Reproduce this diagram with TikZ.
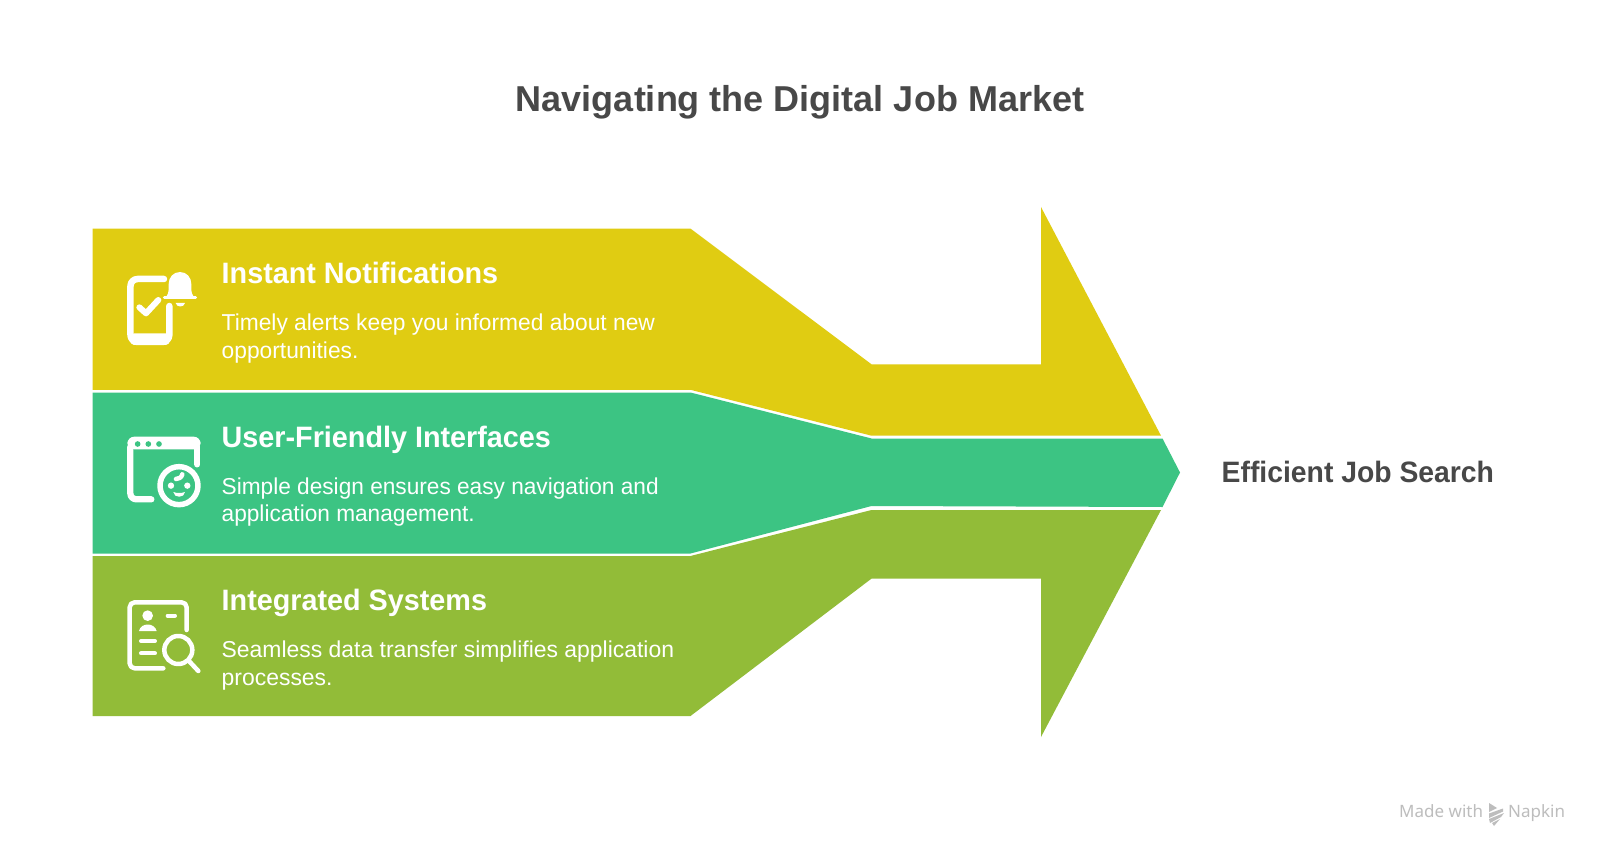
\documentclass[tikz,border=0pt]{standalone}
\usepackage{fontspec}
\setmainfont{Liberation Sans}
\newfontfamily\foot{Noto Sans}
\newfontfamily\headf[FakeStretch=0.975]{Liberation Sans}
\newfontfamily\endf[FakeStretch=0.96]{Liberation Sans}
\newfontfamily\bodyf[FakeStretch=0.99]{Liberation Sans}
\newfontfamily\bodyg[FakeStretch=0.985]{Liberation Sans}
\newfontfamily\bodyh[FakeStretch=0.997]{Liberation Sans}
\definecolor{cy}{HTML}{E0CC12}
\definecolor{cg}{HTML}{3CC483}
\definecolor{co}{HTML}{92BC38}
\definecolor{ct}{HTML}{484848}
\definecolor{cf}{HTML}{BDBDBD}
\tikzset{
  titletext/.style={font=\fontsize{36}{42}\selectfont\bfseries,text=ct,inner sep=0pt,anchor=base},
  endtext/.style={font=\endf\fontsize{29.5}{34}\selectfont\bfseries,text=ct,inner sep=0pt,anchor=base west},
  headtext/.style={font=\headf\fontsize{29.5}{34}\selectfont\bfseries,text=white,inner sep=0pt,anchor=base west},
  bodytext/.style={font=#1\fontsize{23}{27.5}\selectfont,text=white,inner sep=0pt,anchor=north west,align=left},
  footertext/.style={font=\foot\fontsize{17}{20}\selectfont,text=cf,inner sep=0pt,anchor=base west},
  ic/.style={draw=white,line cap=round,line join=round,line width=#1},
}
\begin{document}
\begin{tikzpicture}[x=1pt,y=-1pt]
\useasboundingbox (0,0) rectangle (1600,853);
\fill[white] (0,0) rectangle (1600,853);
% arrow bands
\fill[cy] (92.5,228.6)--(690.5,228.6)--(871.5,364.3)--(1041,364.3)--(1041,207)--(1161,435.7)--(871.5,435.7)--(690.5,389.8)--(92.5,389.8)--cycle;
\fill[cg] (92.5,392.5)--(690.5,392.5)--(871.5,438.5)--(1162.5,438.5)--(1180,472.5)--(1162.5,507)--(871.5,506)--(690.5,553.5)--(92.5,553.5)--cycle;
\fill[co] (92.5,556)--(690.5,556)--(871.5,510)--(1161,510)--(1041,737)--(1041,578.6)--(871.5,578.6)--(690.5,716)--(92.5,716)--cycle;
% texts
\node[titletext] (title) at (800,112) {Navigating the Digital Job Market};
\node[endtext] (end) at (1221.5,482) {Efficient Job Search};
\node[headtext] (h1) at (221.5,283.5) {Instant Notifications};
\node[bodytext=\bodyf] (b1) at (221.5,313.8) {Timely alerts keep you informed about new\\opportunities.};
\node[headtext] (h2) at (221.5,447) {User-Friendly Interfaces};
\node[bodytext=\bodyg] (b2) at (221.5,477.3) {Simple design ensures easy navigation and\\application management.};
\node[headtext] (h3) at (221.5,610.5) {Integrated Systems};
\node[bodytext=\bodyh] (b3) at (221.5,640.8) {Seamless data transfer simplifies application\\processes.};
\node[footertext] (ft1) at (1399,817) {Made with};
\node[footertext] (ft2) at (1508,817) {Napkin};
% footer logo
\fill[cf] (1489,803)--(1497,808)--(1489,812)--cycle;
\fill[cf] (1489,813.5)--(1503,808.5)--(1503,811.5)--(1489,818)--cycle;
\fill[cf] (1489,819)--(1504,813)--(1501,817)--(1490,823)--cycle;
\fill[cf] (1492,823)--(1500,819)--(1494,826)--cycle;
% icon 1: phone and bell
\begin{scope}[shift={(110,250)},x=0.3333pt,y=-0.3333pt]
\fill[white,rounded corners=4pt] (61,250) rectangle (179,285);
\draw[ic=6.5pt,rounded corners=7pt] (162,87)--(61.5,87)--(61.5,276)--(178,276)--(178,168);
\draw[ic=6pt] (88,172)--(108,190)--(145,150);
\fill[white] (170,138) .. controls (178,128) and (176,110) .. (176,102) .. controls (176,82) and (190,66) .. (210,66) .. controls (230,66) and (244,82) .. (244,102) .. controls (244,110) and (242,128) .. (250,138)--cycle;
\draw[ic=3pt] (163,144)--(257,144);
\fill[white] (197,159) .. controls (199,173) and (223,173) .. (225,159)--cycle;
\end{scope}
% icon 2: window and face
\begin{scope}[shift={(110,415)},x=0.3333pt,y=-0.3333pt]
\fill[white,rounded corners=7pt] (52,103)--(52,65)--(272,65)--(272,103)--cycle;
\draw[ic=6.3pt,rounded corners=6pt] (61,95)--(61,253)--(124,253);
\draw[ic=6.3pt] (262,95)--(262,148);
\fill[cg] (83,87) circle[radius=8.5] (115,87) circle[radius=8.5] (147,87) circle[radius=8.5];
\draw[ic=5.5pt] (207,212) circle[radius=57];
\fill[white] (183,212) circle[radius=9.5] (232,212) circle[radius=9.5];
\fill[white] (190,231) .. controls (200,235) and (215,235) .. (225,231) .. controls (224,250) and (191,250) .. (190,231)--cycle;
\draw[ic=4.5pt] (198,192) .. controls (205,192) and (215,188) .. (217,178);
\end{scope}
% icon 3: document and magnifier
\begin{scope}[shift={(110,575)},x=0.3333pt,y=-0.3333pt]
\draw[ic=4.5pt,rounded corners=5pt] (160,280)--(59,280)--(59,82)--(230,82)--(230,165);
\fill[white] (113,122) circle[radius=16];
\fill[white] (87,168) .. controls (92,142) and (134,142) .. (140,168)--cycle;
\draw[ic=4pt] (173,122)--(195,122);
\draw[ic=4pt] (93,198)--(135,198);
\draw[ic=4pt] (93,235)--(135,235);
\draw[ic=4.5pt] (205,225) circle[radius=42];
\draw[ic=4.5pt] (236,257)--(265,288);
\end{scope}
\end{tikzpicture}
\end{document}
